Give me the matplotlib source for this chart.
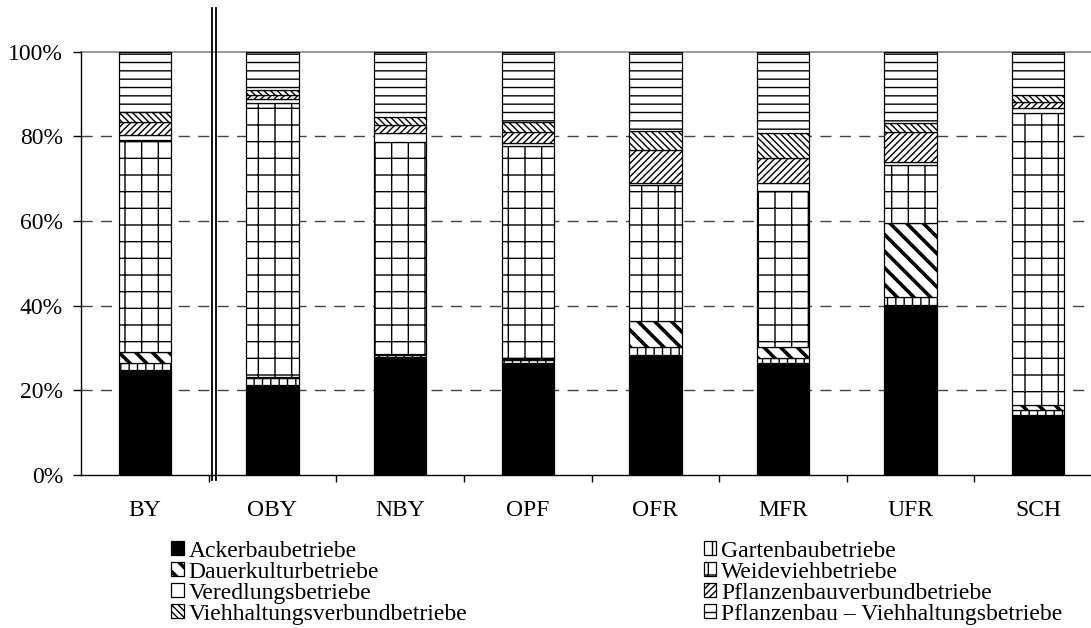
import matplotlib
matplotlib.use("Agg")
import matplotlib.pyplot as plt
from matplotlib.patches import Patch
from matplotlib.lines import Line2D
from matplotlib.ticker import FuncFormatter, FixedLocator

plt.rcParams['font.family'] = ['Liberation Serif', 'DejaVu Serif']
plt.rcParams['hatch.linewidth'] = 1.0

regions = ["BY", "OBY", "NBY", "OPF", "OFR", "MFR", "UFR", "SCH"]
series_names = ["Ackerbaubetriebe", "Gartenbaubetriebe", "Dauerkulturbetriebe",
                "Weideviehbetriebe", "Veredlungsbetriebe", "Pflanzenbauverbundbetriebe",
                "Viehhaltungsverbundbetriebe", "Pflanzenbau – Viehhaltungsbetriebe"]

ackerbau            = [24.8, 21.3, 27.8, 26.4, 28.3, 26.4, 40.2, 14.2]
gartenbau           = [1.6, 1.7, 0.6, 0.8, 2.0, 1.2, 1.9, 1.2]
dauerkultur         = [2.7, 0.2, 0.3, 0.3, 6.2, 2.7, 17.4, 1.1]
weidevieh           = [50.0, 64.7, 50.0, 50.2, 32.0, 36.9, 13.7, 69.1]
veredlung           = [1.2, 1.0, 2.2, 0.8, 0.4, 1.7, 0.8, 1.2]
pflanzenbauverbund  = [3.2, 0.9, 1.8, 2.6, 7.9, 5.9, 7.1, 1.4]
viehhaltungsverbund = [2.3, 1.2, 1.9, 2.4, 4.5, 5.9, 2.0, 1.6]
pflanzenbau_vieh    = [14.2, 9.0, 15.4, 16.5, 18.7, 19.3, 16.9, 10.2]

series = [ackerbau, gartenbau, dauerkultur, weidevieh, veredlung,
          pflanzenbauverbund, viehhaltungsverbund, pflanzenbau_vieh]
styles = [
    dict(facecolor="black", hatch=None),
    dict(facecolor="white", hatch="||"),
    dict(facecolor="white", hatch="\\\\"),
    dict(facecolor="white", hatch="+"),
    dict(facecolor="white", hatch=None),
    dict(facecolor="white", hatch="/////"),
    dict(facecolor="white", hatch="\\\\\\\\\\"),
    dict(facecolor="white", hatch="--"),
]

FS = 17

fig = plt.figure(figsize=(10.91, 6.28), dpi=100)
ax = fig.add_axes([0.0742, 0.2436, 0.936, 0.6741])


def thick_hatch(patch):
    try:
        patch.set_hatch_linewidth(2.6)
    except Exception:
        pass


x = list(range(len(regions)))
bottom = [0.0] * len(regions)
for vals, st in zip(series, styles):
    bars = ax.bar(x, vals, width=0.41, bottom=bottom, color=st["facecolor"],
                  edgecolor="black", linewidth=0.9, hatch=st["hatch"], zorder=3)
    if st["hatch"] == "\\\\":
        for b in bars:
            thick_hatch(b)
    bottom = [b0 + v for b0, v in zip(bottom, vals)]

ax.set_xlim(-0.5, 7.5)
ax.set_ylim(0, 100)

for yv in [20, 40, 60, 80]:
    ax.axhline(yv, color="#444444", linewidth=1.0, linestyle=(0, (8, 6)), zorder=1)
ax.axhline(100, color="#888888", linewidth=1.2, zorder=1, clip_on=False)

ax.set_yticks([0, 20, 40, 60, 80, 100])
ax.yaxis.set_major_formatter(FuncFormatter(lambda v, p: f"{int(v)}%"))
ax.tick_params(axis="y", direction="out", length=6, width=1, labelsize=FS, pad=7)

ax.set_xticks(x)
ax.set_xticklabels(regions, fontsize=FS)
ax.tick_params(axis="x", which="major", length=0, pad=18)
ax.xaxis.set_minor_locator(FixedLocator([i + 0.5 for i in range(len(regions) - 1)]))
ax.tick_params(axis="x", which="minor", direction="out", length=5, width=1)

for s in ["top", "right"]:
    ax.spines[s].set_visible(False)
ax.spines["left"].set_linewidth(1.0)
ax.spines["bottom"].set_linewidth(1.0)

for xv in [0.527, 0.557]:
    ax.add_line(Line2D([xv, xv], [-1.2, 110.3], color="black", linewidth=1.3,
                       clip_on=False, zorder=4))

handles = [Patch(facecolor=st["facecolor"], edgecolor="black", hatch=st["hatch"],
                 linewidth=0.9) for st in styles]
left_idx = [0, 2, 4, 6]
right_idx = [1, 3, 5, 7]
common = dict(frameon=False, fontsize=FS, handlelength=0.53, handleheight=0.53,
              handletextpad=0.2, labelspacing=0.0, borderaxespad=0, borderpad=0)
leg1 = fig.legend([handles[i] for i in left_idx], [series_names[i] for i in left_idx],
                  loc="upper left", bbox_to_anchor=(0.157, 0.139), **common)
leg2 = fig.legend([handles[i] for i in right_idx], [series_names[i] for i in right_idx],
                  loc="upper left", bbox_to_anchor=(0.645, 0.139), **common)
thick_hatch(leg1.get_patches()[1])

fig.savefig("out.png", dpi=100)
